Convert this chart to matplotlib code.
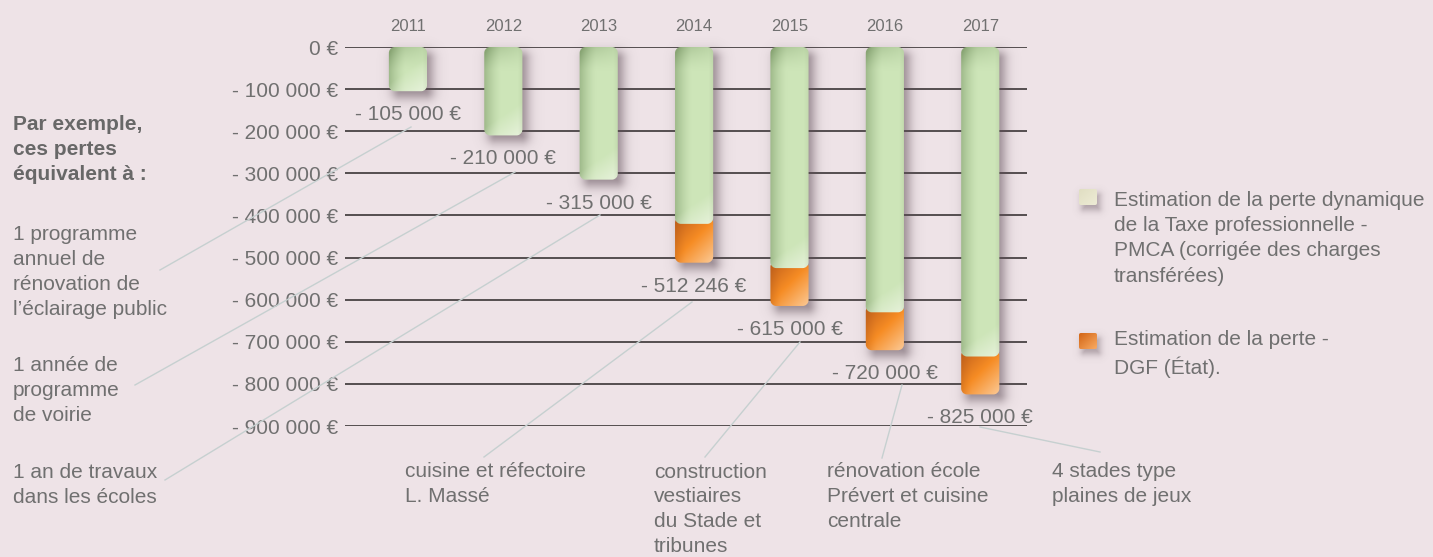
import numpy as np
import matplotlib
matplotlib.use('Agg')
import matplotlib.pyplot as plt
from matplotlib.lines import Line2D

# ---------------- data ----------------
years = ['2011', '2012', '2013', '2014', '2015', '2016', '2017']
tp_loss = [105000, 210000, 315000, 420000, 525000, 630000, 735000]   # perte dynamique TP - PMCA
dgf_loss = [0, 0, 0, 92246, 90000, 90000, 90000]                    # perte DGF (Etat)
total_labels = ['- 105 000 €', '- 210 000 €', '- 315 000 €', '- 512 246 €',
                '- 615 000 €', '- 720 000 €', '- 825 000 €']
ytick_values = [0, -100000, -200000, -300000, -400000, -500000, -600000,
                -700000, -800000, -900000]
ytick_labels = ['0 €', '- 100 000 €', '- 200 000 €', '- 300 000 €', '- 400 000 €',
                '- 500 000 €', '- 600 000 €', '- 700 000 €', '- 800 000 €',
                '- 900 000 €']
intro_text = 'Par exemple,\nces pertes\néquivalent à :'
left_notes = ['1 programme\nannuel de\nrénovation de\nl\u2019éclairage public',
              '1 année de\nprogramme\nde voirie',
              '1 an de travaux\ndans les écoles']
bottom_notes = ['cuisine et réfectoire\nL. Massé',
                'construction\nvestiaires\ndu Stade et\ntribunes',
                'rénovation école\nPrévert et cuisine\ncentrale',
                '4 stades type\nplaines de jeux']
legend_labels = ['Estimation de la perte dynamique\nde la Taxe professionnelle -\n'
                 'PMCA (corrigée des charges\ntransférées)',
                 'Estimation de la perte -\nDGF (État).']

# ---------------- style ----------------
W, H = 1433, 557
BG = '#eee3e7'
TXT = '#707070'
FS = 15
LS = 1.40
STEP = 25.3
plt.rcParams['font.family'] = ['Liberation Sans', 'DejaVu Sans']

fig = plt.figure(figsize=(W / 100, H / 100), dpi=100)
fig.patch.set_facecolor(BG)

ax = fig.add_axes([345 / W, (H - 426) / H, 682 / W, 379 / H])
ax.set_facecolor('none')
ax.set_xlim(-0.66, 6.49)
ax.set_ylim(-900000, 0)
for s in ax.spines.values():
    s.set_visible(False)
ax.set_xticks([])
ax.set_yticks(ytick_values, ytick_labels)
ax.tick_params(axis='y', length=0, pad=5, labelsize=FS, labelcolor=TXT)
for v in ytick_values:
    ax.axhline(v, color='#3a3536', lw=1.2, zorder=1)

xpos = np.arange(len(years))
neg_tp = [-v for v in tp_loss]
neg_dgf = [-v for v in dgf_loss]
bars_tp = ax.bar(xpos, neg_tp, width=0.4, color='none', zorder=0)
bars_dgf = ax.bar(xpos, neg_dgf, bottom=neg_tp, width=0.4, color='none', zorder=0)

totals = [-(a + b) for a, b in zip(tp_loss, dgf_loss)]
for xi, yr in zip(xpos, years):
    ax.annotate(yr, xy=(xi, 0), xytext=(0, 16), textcoords='offset pixels',
                ha='center', va='baseline', fontsize=12, color=TXT, annotation_clip=False)
for xi, tot, lab in zip(xpos, totals, total_labels):
    ax.annotate(lab, xy=(xi, tot), xytext=(0, -29), textcoords='offset pixels',
                ha='center', va='baseline', fontsize=FS, color=TXT, annotation_clip=False)

# overlay axes in pixel coordinates (top-down)
ov = fig.add_axes([0, 0, 1, 1], zorder=5)
ov.set_xlim(0, W)
ov.set_ylim(H, 0)
ov.axis('off')
ov.patch.set_alpha(0)


def to_px(xd, yd):
    p = ax.transData.transform((xd, yd))
    return p[0], H - p[1]


def sdf(X, Y, x0, y0, x1, y1, r):
    cx, cy = (x0 + x1) / 2, (y0 + y1) / 2
    a, b = (x1 - x0) / 2, (y1 - y0) / 2
    r = min(r, a, b)
    qx = np.abs(X - cx) - (a - r)
    qy = np.abs(Y - cy) - (b - r)
    return (np.hypot(np.maximum(qx, 0), np.maximum(qy, 0))
            + np.minimum(np.maximum(qx, qy), 0) - r)


def grid(x0, y0, x1, y1, pad):
    ix0, iy0 = int(np.floor(x0 - pad)), int(np.floor(y0 - pad))
    ix1, iy1 = int(np.ceil(x1 + pad)), int(np.ceil(y1 + pad))
    xs = np.arange(ix0, ix1) + 0.5
    ys = np.arange(iy0, iy1) + 0.5
    X, Y = np.meshgrid(xs, ys)
    return X, Y, (ix0, ix1, iy1, iy0)


def blend(c, target, w):
    return c * (1 - w[..., None]) + np.array(target, float)[None, None, :] * w[..., None]


def draw_box(x0, y0, x1, y1, color_fn, r, z):
    X, Y, ext = grid(x0, y0, x1, y1, 2)
    d = sdf(X, Y, x0, y0, x1, y1, r)
    alpha = np.clip(0.5 - d, 0, 1)
    rgb = color_fn(X, Y, x0, y0, x1, y1)
    img = np.dstack([np.clip(rgb / 255.0, 0, 1), alpha])
    ov.imshow(img, extent=ext, origin='upper', interpolation='nearest', zorder=z, aspect='auto')


def draw_shadow(x0, y0, x1, y1, r, z, dx=5, dy=6, spread=11, a=0.62):
    X, Y, ext = grid(x0 + dx, y0 + dy, x1 + dx, y1 + dy, spread * 1.6)
    d = sdf(X, Y, x0 + dx, y0 + dy, x1 + dx, y1 + dy, r)
    alpha = a / (1 + np.exp(d / (spread / 3.2)))
    img = np.zeros(X.shape + (4,))
    img[..., 0] = 92 / 255
    img[..., 1] = 74 / 255
    img[..., 2] = 84 / 255
    img[..., 3] = alpha
    ov.imshow(img, extent=ext, origin='upper', interpolation='nearest', zorder=z, aspect='auto')


def green_fn(X, Y, x0, y0, x1, y1):
    Wb = x1 - x0
    u = np.clip((X - x0) / Wb, 0, 1)
    yy = Y - y0
    yb = y1 - Y
    c = np.ones(X.shape + (3,)) * np.array([205, 229, 184], float)
    wd = 0.55 * np.clip(1 - u / 0.45, 0, 1) ** 1.5 + 0.45 * np.clip(1 - yy / 24, 0, 1) ** 1.4 * (1 - 0.6 * u)
    c = blend(c, (120, 150, 100), np.clip(wd, 0, 0.8))
    wl = 0.85 * np.clip(1 - (yb + (1 - u) * Wb * 0.7) / 34, 0, 1)
    c = blend(c, (236, 245, 226), wl)
    wr = 0.18 * np.clip(1 - (1 - u) / 0.12, 0, 1)
    c = blend(c, (150, 170, 130), wr)
    return c


def orange_fn(X, Y, x0, y0, x1, y1):
    Wb, Hb = x1 - x0, y1 - y0
    u = np.clip((X - x0) / Wb, 0, 1)
    v = np.clip((Y - y0) / Hb, 0, 1)
    t = np.clip(0.5 * u + 0.6 * v - 0.05, 0, 1)
    c0 = np.array([196, 98, 28], float)
    c1 = np.array([246, 140, 36], float)
    c2 = np.array([251, 196, 140], float)
    w1 = np.clip(t / 0.5, 0, 1)[..., None]
    w2 = np.clip((t - 0.5) / 0.5, 0, 1)[..., None]
    c = c0 * (1 - w1) + c1 * w1
    c = c * (1 - w2) + c2 * w2
    wd = 0.3 * np.clip(1 - u / 0.3, 0, 1) ** 1.5
    c = blend(c, (170, 85, 25), wd)
    return c


def beige_fn(X, Y, x0, y0, x1, y1):
    u = np.clip((X - x0) / (x1 - x0), 0, 1)
    v = np.clip((Y - y0) / (y1 - y0), 0, 1)
    t = 0.5 * (u + v)
    a = np.array([224, 222, 194], float)
    b = np.array([238, 236, 214], float)
    return a * (1 - t[..., None]) + b * t[..., None]


def orange_sw_fn(X, Y, x0, y0, x1, y1):
    u = np.clip((X - x0) / (x1 - x0), 0, 1)
    v = np.clip((Y - y0) / (y1 - y0), 0, 1)
    t = 0.5 * (u + v)
    a = np.array([210, 100, 20], float)
    b = np.array([250, 172, 100], float)
    return a * (1 - t[..., None]) + b * t[..., None]


RAD = 6
for rt, rd in zip(bars_tp, bars_dgf):
    xl, xr = rt.get_x(), rt.get_x() + rt.get_width()
    top = rt.get_y()
    gbot = rt.get_y() + rt.get_height()
    obot = rd.get_y() + rd.get_height()
    px0, py0 = to_px(xl, top)
    px1, py_g = to_px(xr, gbot)
    _, py_o = to_px(xr, obot)
    draw_shadow(px0, py0, px1, max(py_g, py_o), RAD, 2)
    if rd.get_height() != 0:
        draw_box(px0, py_g - 7, px1, py_o, orange_fn, RAD, 3)
    draw_box(px0, py0, px1, py_g, green_fn, RAD, 4)

# legend swatches
draw_shadow(1079, 189, 1097, 205, 2, 2, dx=3, dy=5, spread=7, a=0.45)
draw_box(1079, 189, 1097, 205, beige_fn, 2, 3)
draw_shadow(1079, 333, 1097, 349, 2, 2, dx=3, dy=5, spread=7, a=0.45)
draw_box(1079, 333, 1097, 349, orange_sw_fn, 2, 3)


def place(x, first_baseline, text, step=STEP, **kw):
    n = text.count('\n')
    ov.text(x, first_baseline + n * step, text, fontsize=FS, va='baseline', ha='left',
            linespacing=LS * step / STEP, **kw)


place(1114, 204.5, legend_labels[0], step=25.7, color=TXT)
place(1114, 348.5, legend_labels[1], step=25.7, color=TXT)

# left notes
place(13, 129.5, intro_text, color='#686868', fontweight='bold')
for (xx, yy), t in zip([(13, 239.5), (13, 370.5), (13, 477.5)], left_notes):
    place(xx, yy, t, color=TXT)
for xx, t in zip([405, 654, 827, 1052], bottom_notes):
    place(xx, 477, t, step=24.9, color=TXT)

# connector lines
connectors = [((160, 270), (411, 127)),
              ((135, 385), (515, 172)),
              ((165, 480), (600, 215)),
              ((484, 457), (692, 302)),
              ((705, 457), (800, 342)),
              ((882, 458), (902, 385)),
              ((1100, 452), (980, 427))]
for (a0, a1), (b0, b1) in connectors:
    ov.add_line(Line2D([a0, b0], [a1, b1], color='#c6d0d0', lw=1.0, zorder=1))

fig.savefig('out.png', dpi=100, facecolor=BG)
